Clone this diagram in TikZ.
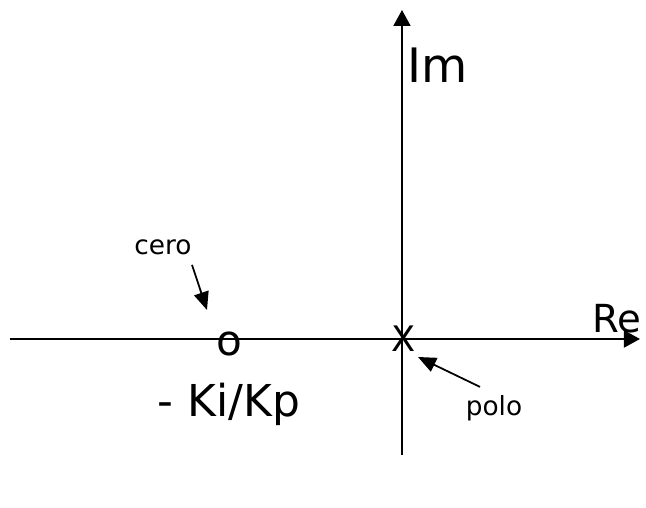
\documentclass[tikz,border=0pt]{standalone}
\usepackage{fontspec}
\setmainfont{DejaVu Sans}
\usetikzlibrary{arrows.meta}

\begin{document}
\begin{tikzpicture}[scale=1,
        axis/.style={-{Triangle[length=0.32cm,width=0.34cm]}, line width=1.1pt},
        pointer/.style={-{Triangle[length=0.36cm,width=0.3cm]}, line width=1pt},
        lbl/.style={inner sep=0pt}]
        \useasboundingbox (-8.04,-3.38) rectangle (4.88,6.78);

        % ejes
        \draw[axis] (-7.84,0) -- (4.76,0);
        \draw[axis] (0,-2.32) -- (0,6.58);
        \node[lbl, font=\fontsize{27}{30}\selectfont] (im) at (0.72,5.48) {Im};
        \node[lbl, font=\fontsize{22}{24}\selectfont] (re) at (4.3,0.4) {Re};

        % cero y polo
        \node[lbl, font=\fontsize{24}{26}\selectfont] (zero) at (-3.46,-0.1) {o};
        \node[lbl, font=\fontsize{20}{22}\selectfont] (pole) at (0.04,0) {X};
        \node[lbl, anchor=base, font=\fontsize{25}{28}\selectfont] (kikp) at (-3.46,-1.56) {- Ki/Kp};

        \node[lbl, font=\fontsize{15}{18}\selectfont] (cerolbl) at (-4.78,1.84) {cero};
        \node[lbl, font=\fontsize{15}{18}\selectfont] (pololbl) at (1.84,-1.38) {polo};
        \coordinate (zerotip) at (-3.9,0.58);
        \coordinate (poletip) at (0.32,-0.36);
        \draw[pointer] ([shift={(0.58,-0.2)}]cerolbl.south) -- (zerotip);
        \draw[pointer] ([shift={(-0.28,0.16)}]pololbl.north) -- (poletip);
\end{tikzpicture}
\end{document}
